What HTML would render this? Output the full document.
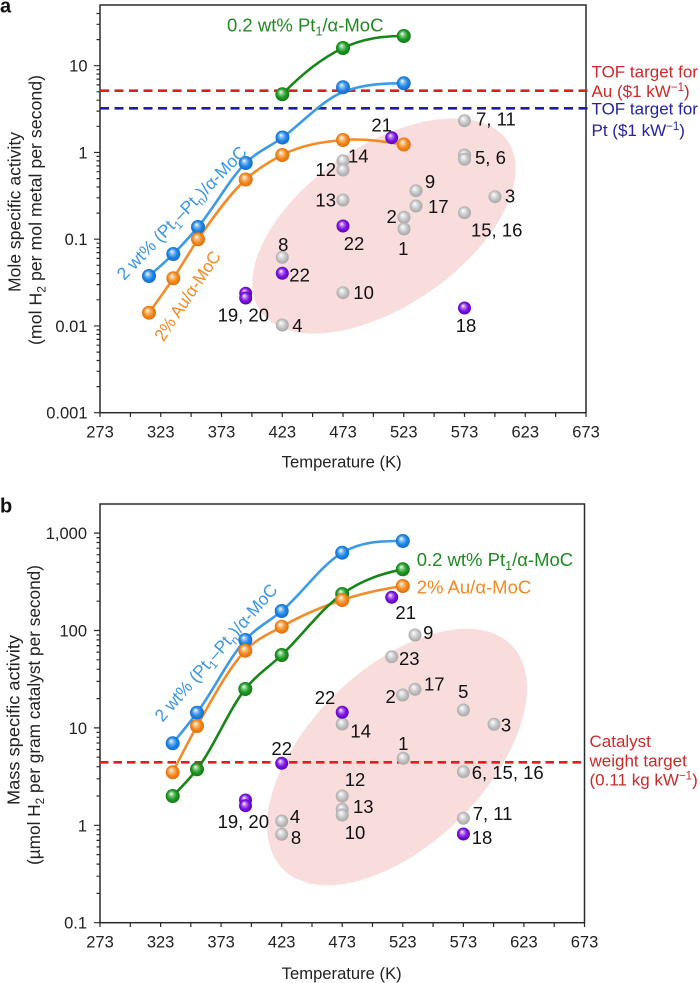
<!DOCTYPE html>
<html><head><meta charset="utf-8"><style>
html,body{margin:0;padding:0;background:#fff;}
svg{display:block;}
text{font-family:"Liberation Sans",Arial,sans-serif;}
</style></head><body>
<svg width="700" height="983" viewBox="0 0 700 983" xmlns="http://www.w3.org/2000/svg">
<defs>
<radialGradient id="gB" cx="0.5" cy="0.5" r="0.55" fx="0.38" fy="0.32"><stop offset="0" stop-color="#ffffff"/><stop offset="0.28" stop-color="#7fbdf3"/><stop offset="0.6" stop-color="#1e86e6"/><stop offset="1" stop-color="#1466c2"/></radialGradient>
<radialGradient id="gO" cx="0.5" cy="0.5" r="0.55" fx="0.38" fy="0.32"><stop offset="0" stop-color="#ffffff"/><stop offset="0.28" stop-color="#f9bf80"/><stop offset="0.6" stop-color="#f4881c"/><stop offset="1" stop-color="#d8690a"/></radialGradient>
<radialGradient id="gG" cx="0.5" cy="0.5" r="0.55" fx="0.38" fy="0.32"><stop offset="0" stop-color="#ffffff"/><stop offset="0.28" stop-color="#7cc87e"/><stop offset="0.6" stop-color="#1e9a22"/><stop offset="1" stop-color="#107014"/></radialGradient>
<radialGradient id="gP" cx="0.5" cy="0.5" r="0.55" fx="0.38" fy="0.32"><stop offset="0" stop-color="#ffffff"/><stop offset="0.28" stop-color="#b675f2"/><stop offset="0.6" stop-color="#7a12e0"/><stop offset="1" stop-color="#5600ac"/></radialGradient>
<radialGradient id="gY" cx="0.5" cy="0.5" r="0.55" fx="0.38" fy="0.32"><stop offset="0" stop-color="#ffffff"/><stop offset="0.3" stop-color="#e0e0e0"/><stop offset="0.65" stop-color="#bdbdbd"/><stop offset="1" stop-color="#a3a3a3"/></radialGradient>
</defs>

<!-- ================= PANEL A ================= -->
<text x="0" y="12.5" font-size="20" font-weight="bold" fill="#111">a</text>
<ellipse cx="384" cy="226" rx="150" ry="80" transform="rotate(-34.5 384 226)" fill="#f9dcdc"/>

<rect x="100" y="5" width="486" height="407.7" fill="none" stroke="#2a2a2a" stroke-width="1.5"/>
<g stroke="#2a2a2a" stroke-width="1.2">
<path d="M94 412.7H100M94 325.95H100M94 239.2H100M94 152.45H100M94 65.7H100"/>
<path d="M96.5 386.6H100M96.5 371.3H100M96.5 360.5H100M96.5 352.1H100M96.5 345.2H100M96.5 339.4H100M96.5 334.4H100M96.5 329.9H100
M96.5 299.8H100M96.5 284.6H100M96.5 273.7H100M96.5 265.3H100M96.5 258.4H100M96.5 252.6H100M96.5 247.6H100M96.5 243.2H100
M96.5 213.1H100M96.5 197.8H100M96.5 187H100M96.5 178.6H100M96.5 171.7H100M96.5 165.9H100M96.5 160.9H100M96.5 156.4H100
M96.5 126.3H100M96.5 111.1H100M96.5 100.2H100M96.5 91.8H100M96.5 84.9H100M96.5 79.1H100M96.5 74.1H100M96.5 69.7H100
M96.5 39.6H100M96.5 24.3H100M96.5 13.5H100"/>
<path d="M100 412.7V417M130.4 412.7V417M160.75 412.7V417M191.1 412.7V417M221.5 412.7V417M251.9 412.7V417M282.25 412.7V417M312.6 412.7V417M343 412.7V417M373.4 412.7V417M403.75 412.7V417M434.1 412.7V417M464.5 412.7V417M494.9 412.7V417M525.25 412.7V417M555.6 412.7V417M586 412.7V417"/>
</g>
<g font-size="16.5" fill="#222" text-anchor="end">
<text x="87.5" y="71.7">10</text>
<text x="87.5" y="158.4">1</text>
<text x="87.5" y="245.2">0.1</text>
<text x="87.5" y="331.9">0.01</text>
<text x="87.5" y="418.7">0.001</text>
</g>
<g font-size="16.5" fill="#222" text-anchor="middle">
<text x="100" y="437.5">273</text>
<text x="160.75" y="437.5">323</text>
<text x="221.5" y="437.5">373</text>
<text x="282.25" y="437.5">423</text>
<text x="343" y="437.5">473</text>
<text x="403.75" y="437.5">523</text>
<text x="464.5" y="437.5">573</text>
<text x="525.25" y="437.5">623</text>
<text x="586" y="437.5">673</text>
<text x="341.7" y="467.5" textLength="120" lengthAdjust="spacingAndGlyphs">Temperature (K)</text>
</g>
<g font-size="17.5" fill="#222" text-anchor="middle">
<text transform="translate(20.5 212) rotate(-90)" textLength="160" lengthAdjust="spacingAndGlyphs">Mole specific activity</text>
<text transform="translate(41.5 210) rotate(-90)" textLength="270" lengthAdjust="spacingAndGlyphs">(mol H<tspan dy="4" font-size="12">2</tspan><tspan dy="-4"> per mol metal per second)</tspan></text>
</g>

<line x1="100" y1="90.7" x2="588" y2="90.7" stroke="#d62222" stroke-width="2.6" stroke-dasharray="9 5.5"/>
<line x1="100" y1="108.3" x2="588" y2="108.3" stroke="#1c1cae" stroke-width="2.6" stroke-dasharray="9 5.5"/>
<g font-size="17">
<text x="591.5" y="77.5" fill="#c92a2a">TOF target for</text>
<text x="591.5" y="97" fill="#c92a2a">Au ($1 kW<tspan dy="-6" font-size="11.5">−1</tspan><tspan dy="6">)</tspan></text>
<text x="591.5" y="114.3" fill="#24249e">TOF target for</text>
<text x="591.5" y="136" fill="#24249e">Pt ($1 kW<tspan dy="-6" font-size="11.5">−1</tspan><tspan dy="6">)</tspan></text>
</g>

<g fill="none" stroke-width="2.6" stroke-linecap="round">
<path stroke="#3d9be6" d="M149 276C157.1 269.1 165.2 262.1 173.3 254C181.53 245.79 189.77 236.69 198 227C213.9 208.27 229.8 178.52 245.7 163C257.97 151.02 270.23 146.64 282.5 137.5C302.67 122.5 322.8 100 343 92C363.25 84 383.5 83.3 403.75 83.3"/>
<path stroke="#f28c28" d="M149 312.7C157.1 301.52 165.2 290.43 173.3 278.3C181.53 265.98 189.77 251.38 198 239.3C213.9 215.96 229.8 194.18 245.7 179.5C257.9 168.24 270.1 161.22 282.3 155C302.53 144.68 322.77 141.76 343 140C363.25 138.24 383.5 141.46 403.75 144.5"/>
<path stroke="#178517" d="M282.3 94.3C302.53 73.16 322.77 57.73 343 48C363.25 38.26 383.5 36 403.75 36"/>
</g>
<g>
<circle cx="149" cy="276" r="7" fill="url(#gB)"/><circle cx="173.3" cy="254" r="7" fill="url(#gB)"/><circle cx="198" cy="227" r="7" fill="url(#gB)"/><circle cx="245.7" cy="163" r="7" fill="url(#gB)"/><circle cx="282.5" cy="137.5" r="7" fill="url(#gB)"/><circle cx="343" cy="87.3" r="7" fill="url(#gB)"/><circle cx="403.75" cy="83.3" r="7" fill="url(#gB)"/>
<circle cx="149" cy="312.7" r="7" fill="url(#gO)"/><circle cx="173.3" cy="278.3" r="7" fill="url(#gO)"/><circle cx="198" cy="239.3" r="7" fill="url(#gO)"/><circle cx="245.7" cy="179.5" r="7" fill="url(#gO)"/><circle cx="282.3" cy="155" r="7" fill="url(#gO)"/><circle cx="343" cy="140" r="7" fill="url(#gO)"/><circle cx="403.75" cy="144.5" r="7" fill="url(#gO)"/>
<circle cx="282.3" cy="94.3" r="7" fill="url(#gG)"/><circle cx="343" cy="48" r="7" fill="url(#gG)"/><circle cx="403.75" cy="36" r="7" fill="url(#gG)"/>
<circle cx="464.5" cy="120.7" r="6.5" fill="url(#gY)"/>
<circle cx="464.5" cy="155" r="6.5" fill="url(#gY)"/><circle cx="464.5" cy="159.3" r="6.5" fill="url(#gY)"/>
<circle cx="416" cy="190.7" r="6.5" fill="url(#gY)"/><circle cx="416" cy="206" r="6.5" fill="url(#gY)"/>
<circle cx="495" cy="196.7" r="6.5" fill="url(#gY)"/>
<circle cx="404" cy="217.3" r="6.5" fill="url(#gY)"/><circle cx="404" cy="229" r="6.5" fill="url(#gY)"/>
<circle cx="464.5" cy="212.7" r="6.5" fill="url(#gY)"/>
<circle cx="343" cy="160.7" r="6.5" fill="url(#gY)"/><circle cx="343" cy="170" r="6.5" fill="url(#gY)"/>
<circle cx="343" cy="200" r="6.5" fill="url(#gY)"/>
<circle cx="282.3" cy="257.3" r="6.5" fill="url(#gY)"/>
<circle cx="343" cy="292.7" r="6.5" fill="url(#gY)"/>
<circle cx="282.3" cy="325" r="6.5" fill="url(#gY)"/>
<circle cx="391.7" cy="137.7" r="6.5" fill="url(#gP)"/>
<circle cx="343" cy="226" r="6.5" fill="url(#gP)"/>
<circle cx="282.3" cy="273.3" r="6.5" fill="url(#gP)"/>
<circle cx="245.7" cy="293.3" r="6.5" fill="url(#gP)"/><circle cx="245.7" cy="298" r="6.5" fill="url(#gP)"/>
<circle cx="464.5" cy="308" r="6.5" fill="url(#gP)"/>
</g>
<text x="227" y="31.5" font-size="18.5" fill="#1f8a22">0.2 wt% Pt<tspan dy="4" font-size="12.5">1</tspan><tspan dy="-4">/α-MoC</tspan></text>
<text transform="translate(186 217) rotate(-46)" text-anchor="middle" font-size="17.5" fill="#3a95e0" textLength="178" lengthAdjust="spacingAndGlyphs">2 wt% (Pt<tspan dy="4" font-size="12">1</tspan><tspan dy="-4">–Pt</tspan><tspan dy="4" font-size="12">n</tspan><tspan dy="-4">)/α-MoC</tspan></text>
<text transform="translate(192.4 299.3) rotate(-56)" text-anchor="middle" font-size="17.5" fill="#f08a24" textLength="104" lengthAdjust="spacingAndGlyphs">2% Au/α-MoC</text>
<g font-size="18.5" fill="#111" text-anchor="middle">
<text x="381.7" y="131.5">21</text>
<text x="358.3" y="162.5">14</text>
<text x="325.7" y="175.8">12</text>
<text x="325.7" y="206.5">13</text>
<text x="354" y="249.8">22</text>
<text x="430" y="188.2">9</text>
<text x="438.3" y="213.2">17</text>
<text x="391.7" y="223.2">2</text>
<text x="403.3" y="254.8">1</text>
<text x="510" y="202.5">3</text>
<text x="496.7" y="236.5">15, 16</text>
<text x="283.3" y="250.8">8</text>
<text x="243.3" y="321.5">19, 20</text>
<text x="466" y="332.2">18</text>
</g>
<g font-size="18.5" fill="#111">
<text x="476" y="125.5">7, 11</text>
<text x="475" y="164">5, 6</text>
<text x="289.3" y="281.5">22</text>
<text x="353.3" y="299.2">10</text>
<text x="292.3" y="332.2">4</text>
</g>

<!-- ================= PANEL B ================= -->
<text x="0" y="512.7" font-size="20" font-weight="bold" fill="#111">b</text>
<ellipse cx="397" cy="757" rx="160" ry="88" transform="rotate(-44.3 397 757)" fill="#f9dcdc"/>

<rect x="100" y="504" width="484.5" height="418.7" fill="none" stroke="#2a2a2a" stroke-width="1.5"/>
<g stroke="#2a2a2a" stroke-width="1.2">
<path d="M94 922.7H100M94 825.3H100M94 727.9H100M94 630.5H100M94 533.1H100"/>
<path d="M96.5 893.4H100M96.5 876.2H100M96.5 864.1H100M96.5 854.6H100M96.5 846.9H100M96.5 840.4H100M96.5 834.7H100M96.5 829.8H100
M96.5 796H100M96.5 778.8H100M96.5 766.7H100M96.5 757.2H100M96.5 749.5H100M96.5 743H100M96.5 737.3H100M96.5 732.4H100
M96.5 698.6H100M96.5 681.4H100M96.5 669.3H100M96.5 659.8H100M96.5 652.1H100M96.5 645.6H100M96.5 639.9H100M96.5 635H100
M96.5 601.2H100M96.5 584H100M96.5 571.9H100M96.5 562.4H100M96.5 554.7H100M96.5 548.2H100M96.5 542.5H100M96.5 537.6H100"/>
<path d="M100 922.7V927M130.3 922.7V927M160.6 922.7V927M190.8 922.7V927M221.1 922.7V927M251.4 922.7V927M281.7 922.7V927M312 922.7V927M342.2 922.7V927M372.5 922.7V927M402.8 922.7V927M433.1 922.7V927M463.4 922.7V927M493.6 922.7V927M523.9 922.7V927M554.2 922.7V927M584.5 922.7V927"/>
</g>
<g font-size="16.5" fill="#222" text-anchor="end">
<text x="87" y="539.1">1,000</text>
<text x="87" y="636.5">100</text>
<text x="87" y="733.9">10</text>
<text x="87" y="831.3">1</text>
<text x="87" y="928.7">0.1</text>
</g>
<g font-size="16.5" fill="#222" text-anchor="middle">
<text x="100" y="947.5">273</text>
<text x="160.6" y="947.5">323</text>
<text x="221.1" y="947.5">373</text>
<text x="281.7" y="947.5">423</text>
<text x="342.2" y="947.5">473</text>
<text x="402.8" y="947.5">523</text>
<text x="463.4" y="947.5">573</text>
<text x="523.9" y="947.5">623</text>
<text x="584.5" y="947.5">673</text>
<text x="341.7" y="979" textLength="120" lengthAdjust="spacingAndGlyphs">Temperature (K)</text>
</g>
<g font-size="17.5" fill="#222" text-anchor="middle">
<text transform="translate(19.5 720) rotate(-90)" textLength="170" lengthAdjust="spacingAndGlyphs">Mass specific activity</text>
<text transform="translate(40 715) rotate(-90)" textLength="300" lengthAdjust="spacingAndGlyphs">(µmol H<tspan dy="4" font-size="12">2</tspan><tspan dy="-4"> per gram catalyst per second)</tspan></text>
</g>

<line x1="100" y1="762.3" x2="586" y2="762.3" stroke="#d62222" stroke-width="2.6" stroke-dasharray="8.5 5"/>
<g font-size="17" fill="#c92a2a">
<text x="589.5" y="747">Catalyst</text>
<text x="589.5" y="766.5">weight target</text>
<text x="589.5" y="785.5">(0.11 kg kW<tspan dy="-6" font-size="11.5">−1</tspan><tspan dy="6">)</tspan></text>
</g>

<g fill="none" stroke-width="2.6" stroke-linecap="round">
<path stroke="#3d9be6" d="M172.7 743.3C180.8 733.58 188.9 723.56 197 712.7C213.1 691.11 229.2 657.73 245.3 640C257.43 626.64 269.57 621.43 281.7 611C301.87 593.65 322.03 564.38 342.2 552.7C362.4 541 382.6 541 402.8 541"/>
<path stroke="#f28c28" d="M172.7 772.3C180.8 756.5 188.9 740.49 197 726C213.1 697.2 229.2 667.54 245.3 650.7C257.43 638.01 269.57 633.7 281.7 626.7C301.87 615.06 322.03 606.78 342.2 600C362.4 593.21 382.6 589.03 402.8 586"/>
<path stroke="#178517" d="M172.7 796C180.8 787.9 188.9 779.73 197 769.3C213.1 748.56 229.2 709.08 245.3 689C257.43 673.87 269.57 666.67 281.7 655C301.87 635.6 322.03 608.28 342.2 594C362.4 579.7 382.6 573.34 402.8 569.3"/>
</g>
<g>
<circle cx="172.7" cy="743.3" r="7" fill="url(#gB)"/><circle cx="197" cy="712.7" r="7" fill="url(#gB)"/><circle cx="245.3" cy="640" r="7" fill="url(#gB)"/><circle cx="281.7" cy="611" r="7" fill="url(#gB)"/><circle cx="342.2" cy="552.7" r="7" fill="url(#gB)"/><circle cx="402.8" cy="541" r="7" fill="url(#gB)"/>
<circle cx="172.7" cy="772.3" r="7" fill="url(#gO)"/><circle cx="197" cy="726" r="7" fill="url(#gO)"/><circle cx="245.3" cy="650.7" r="7" fill="url(#gO)"/><circle cx="281.7" cy="626.7" r="7" fill="url(#gO)"/><circle cx="342.2" cy="594" r="7" fill="url(#gG)"/><circle cx="342.2" cy="600" r="7" fill="url(#gO)"/><circle cx="402.8" cy="586" r="7" fill="url(#gO)"/>
<circle cx="172.7" cy="796" r="7" fill="url(#gG)"/><circle cx="197" cy="769.3" r="7" fill="url(#gG)"/><circle cx="245.3" cy="689" r="7" fill="url(#gG)"/><circle cx="281.7" cy="655" r="7" fill="url(#gG)"/><circle cx="402.8" cy="569.3" r="7" fill="url(#gG)"/>
<circle cx="415" cy="635" r="6.5" fill="url(#gY)"/>
<circle cx="391.7" cy="656.7" r="6.5" fill="url(#gY)"/>
<circle cx="402.7" cy="695" r="6.5" fill="url(#gY)"/>
<circle cx="415" cy="689.3" r="6.5" fill="url(#gY)"/>
<circle cx="463.4" cy="710" r="6.5" fill="url(#gY)"/>
<circle cx="494" cy="724.3" r="6.5" fill="url(#gY)"/>
<circle cx="342.2" cy="724" r="6.5" fill="url(#gY)"/>
<circle cx="403.3" cy="758.3" r="6.5" fill="url(#gY)"/>
<circle cx="463.4" cy="771.7" r="6.5" fill="url(#gY)"/>
<circle cx="342.2" cy="796" r="6.5" fill="url(#gY)"/><circle cx="342.2" cy="809.3" r="6.5" fill="url(#gY)"/><circle cx="342.2" cy="815" r="6.5" fill="url(#gY)"/>
<circle cx="281.7" cy="821" r="6.5" fill="url(#gY)"/><circle cx="281.7" cy="834.3" r="6.5" fill="url(#gY)"/>
<circle cx="463.4" cy="818.3" r="6.5" fill="url(#gY)"/>
<circle cx="391.7" cy="597.3" r="6.5" fill="url(#gP)"/>
<circle cx="342.2" cy="712.3" r="6.5" fill="url(#gP)"/>
<circle cx="281.7" cy="763.3" r="6.5" fill="url(#gP)"/>
<circle cx="245.5" cy="800" r="6.5" fill="url(#gP)"/><circle cx="245.5" cy="805.7" r="6.5" fill="url(#gP)"/>
<circle cx="463.4" cy="834" r="6.5" fill="url(#gP)"/>
</g>
<text x="416.7" y="566" font-size="18.5" fill="#1f8a22">0.2 wt% Pt<tspan dy="4" font-size="12.5">1</tspan><tspan dy="-4">/α-MoC</tspan></text>
<text x="416.7" y="593.5" font-size="18.5" fill="#f08a24">2% Au/α-MoC</text>
<text transform="translate(220.5 656.5) rotate(-48.8)" text-anchor="middle" font-size="17.5" fill="#3a95e0" textLength="176" lengthAdjust="spacingAndGlyphs">2 wt% (Pt<tspan dy="4" font-size="12">1</tspan><tspan dy="-4">–Pt</tspan><tspan dy="4" font-size="12">n</tspan><tspan dy="-4">)/α-MoC</tspan></text>
<g font-size="18.5" fill="#111" text-anchor="middle">
<text x="405.7" y="619.2">21</text>
<text x="428.3" y="639.2">9</text>
<text x="409.3" y="664.8">23</text>
<text x="390.7" y="703.2">2</text>
<text x="434.3" y="690.5">17</text>
<text x="463.3" y="698.2">5</text>
<text x="506" y="731.5">3</text>
<text x="325" y="704.2">22</text>
<text x="360.7" y="737.5">14</text>
<text x="281.7" y="754.8">22</text>
<text x="403.3" y="749.8">1</text>
<text x="355" y="785.8">12</text>
<text x="363.3" y="813.2">13</text>
<text x="355" y="838.8">10</text>
<text x="295" y="823.2">4</text>
<text x="296" y="843.8">8</text>
<text x="243.3" y="828.2">19, 20</text>
</g>
<g font-size="18.5" fill="#111">
<text x="471.7" y="778.8">6, 15, 16</text>
<text x="472.7" y="819.8">7, 11</text>
<text x="471.7" y="843.8">18</text>
</g>
</svg>
</body></html>
